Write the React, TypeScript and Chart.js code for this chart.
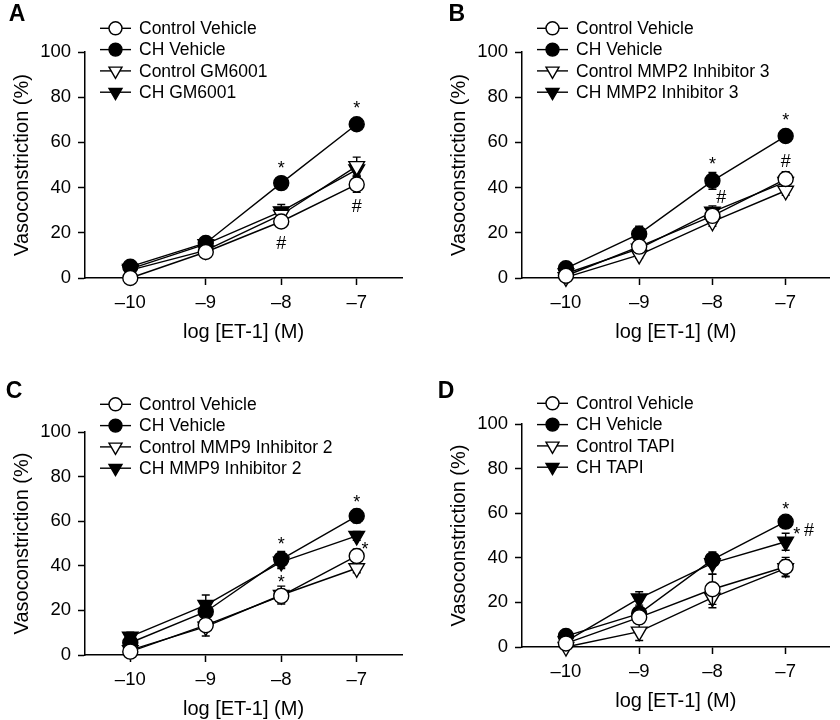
import React, { useEffect, useRef } from 'react';
import { Chart, registerables } from 'chart.js';

Chart.register(...registerables);

// ---------- shared axis data ----------
const doses = [-10, -9, -8, -7];
const xTickLabels = ['\u201310', '\u20139', '\u20138', '\u20137'];
const xMin = -10.6;
const xMax = -6.4;
const yMin = 0;
const yMax = 100;
const yStep = 20;
const xTitle = 'log [ET-1] (M)';
const yTitle = 'Vasoconstriction (%)';

// ---------- Panel A ----------
const aLetter = 'A';
const aLabels = ['Control Vehicle', 'CH Vehicle', 'Control GM6001', 'CH GM6001'];
const aCtrlVehicle = [0, 11.5, 25, 41.4];
const aCtrlVehicleErr = [1, 1.5, 2, 3.5];
const aChVehicle = [5, 15.5, 42, 68];
const aChVehicleErr = [1, 1.5, 1.5, 2.5];
const aCtrlDrug = [3.5, 12.2, 28, 49.5];
const aCtrlDrugErr = [1, 1.5, 2.5, 4];
const aChDrug = [4, 15, 29.5, 48];
const aChDrugErr = [1, 1.5, 3, 3];
const aMarkX = [-8, -7, -8, -7];
const aMarkY = [50.7, 77.3, 15.8, 32];
const aMarkText = ['*', '*', '#', '#'];

// ---------- Panel B ----------
const bLetter = 'B';
const bLabels = ['Control Vehicle', 'CH Vehicle', 'Control MMP2 Inhibitor 3', 'CH MMP2 Inhibitor 3'];
const bCtrlVehicle = [1, 13.9, 27.5, 43.8];
const bCtrlVehicleErr = [1, 2, 2.5, 3.2];
const bChVehicle = [4.3, 19.5, 43, 62.8];
const bChVehicleErr = [1, 3.4, 3.7, 2.5];
const bCtrlDrug = [0.3, 10.2, 24.9, 38.6];
const bCtrlDrugErr = [1, 1.5, 2, 2];
const bChDrug = [2, 13, 29.3, 42.5];
const bChDrugErr = [1, 1.5, 2.6, 2];
const bMarkX = [-8, -7, -7.88, -7];
const bMarkY = [52.2, 71.7, 36, 51.8];
const bMarkText = ['*', '*', '#', '#'];

// ---------- Panel C ----------
const cLetter = 'C';
const cLabels = ['Control Vehicle', 'CH Vehicle', 'Control MMP9 Inhibitor 2', 'CH MMP9 Inhibitor 2'];
const cCtrlVehicle = [1.5, 13.4, 26.5, 44.4];
const cCtrlVehicleErr = [1, 2, 3, 3];
const cChVehicle = [5.5, 19.4, 42.9, 62.3];
const cChVehicleErr = [1, 3, 3.5, 3];
const cCtrlDrug = [2.2, 12.7, 26.9, 38.9];
const cCtrlDrugErr = [1, 4.2, 4, 2];
const cChDrug = [8.2, 22.4, 41.8, 53.4];
const cChDrugErr = [2, 4.5, 3, 2];
const cMarkX = [-8, -8, -7, -6.89];
const cMarkY = [51.6, 34.8, 70.7, 49.3];
const cMarkText = ['*', '*', '*', '*'];

// ---------- Panel D ----------
const dLetter = 'D';
const dLabels = ['Control Vehicle', 'CH Vehicle', 'Control TAPI', 'CH TAPI'];
const dCtrlVehicle = [1.6, 13.3, 25.9, 36];
const dCtrlVehicleErr = [1, 2, 6.8, 4.2];
const dChVehicle = [4.9, 15, 39.2, 56.2];
const dChVehicleErr = [1, 2, 2, 2];
const dCtrlDrug = [0, 6.9, 22.1, 35.3];
const dCtrlDrugErr = [1, 4, 4.5, 3.8];
const dChDrug = [2.5, 21.8, 37.6, 47.2];
const dChDrugErr = [1, 3, 5, 3.8];
const dMarkX = [-7, -6.85, -6.68];
const dMarkY = [63.7, 52.5, 52.5];
const dMarkText = ['*', '*', '#'];

// ---------- layout (positions only) ----------
const FONT = '"Liberation Sans", Arial, Helvetica, sans-serif';
const CW = 420;
const CH = 360;

type Series = { label: string; values: number[]; errors: number[] };
type PanelSpec = {
  letter: string;
  series: Series[];
  markX: number[];
  markY: number[];
  markText: string[];
  left: number;
  top: number;
  plotLeft: number;
  plotRight: number;
  plotTop: number;
  plotBottom: number;
  letterX: number;
  letterY: number;
  legendTop: number;
};

function mk(labels: string[], vals: number[][], errs: number[][]): Series[] {
  return labels.map((l, i) => ({ label: l, values: vals[i], errors: errs[i] }));
}

const panels: PanelSpec[] = [
  {
    letter: aLetter,
    series: mk(aLabels, [aCtrlVehicle, aChVehicle, aCtrlDrug, aChDrug], [aCtrlVehicleErr, aChVehicleErr, aCtrlDrugErr, aChDrugErr]),
    markX: aMarkX, markY: aMarkY, markText: aMarkText,
    left: 0, top: 0, plotLeft: 85, plotRight: 402, plotTop: 52, plotBottom: 278,
    letterX: 17, letterY: 15, legendTop: 28.3,
  },
  {
    letter: bLetter,
    series: mk(bLabels, [bCtrlVehicle, bChVehicle, bCtrlDrug, bChDrug], [bCtrlVehicleErr, bChVehicleErr, bCtrlDrugErr, bChDrugErr]),
    markX: bMarkX, markY: bMarkY, markText: bMarkText,
    left: 420, top: 0, plotLeft: 102, plotRight: 418, plotTop: 52, plotBottom: 278,
    letterX: 36.7, letterY: 15, legendTop: 28.3,
  },
  {
    letter: cLetter,
    series: mk(cLabels, [cCtrlVehicle, cChVehicle, cCtrlDrug, cChDrug], [cCtrlVehicleErr, cChVehicleErr, cCtrlDrugErr, cChDrugErr]),
    markX: cMarkX, markY: cMarkY, markText: cMarkText,
    left: 0, top: 360, plotLeft: 85, plotRight: 402, plotTop: 72, plotBottom: 295,
    letterX: 14, letterY: 32, legendTop: 44.3,
  },
  {
    letter: dLetter,
    series: mk(dLabels, [dCtrlVehicle, dChVehicle, dCtrlDrug, dChDrug], [dCtrlVehicleErr, dChVehicleErr, dCtrlDrugErr, dChDrugErr]),
    markX: dMarkX, markY: dMarkY, markText: dMarkText,
    left: 420, top: 360, plotLeft: 102, plotRight: 418, plotTop: 64, plotBottom: 287,
    letterX: 26, letterY: 32, legendTop: 43.3,
  },
];

const markerStyles = [
  { shape: 'circle', fill: '#ffffff' },
  { shape: 'circle', fill: '#000000' },
  { shape: 'triangle', fill: '#ffffff' },
  { shape: 'triangle', fill: '#000000' },
];

function drawMarker(ctx: CanvasRenderingContext2D, shape: string, fill: string, x: number, y: number, r: number) {
  ctx.beginPath();
  if (shape === 'circle') {
    ctx.arc(x, y, r, 0, Math.PI * 2);
  } else {
    ctx.moveTo(x, y + r);
    ctx.lineTo(x - r * Math.sin(Math.PI / 3), y - r * 0.5);
    ctx.lineTo(x + r * Math.sin(Math.PI / 3), y - r * 0.5);
    ctx.closePath();
  }
  ctx.fillStyle = fill;
  ctx.fill();
  ctx.lineWidth = 1.4;
  ctx.strokeStyle = '#000';
  ctx.stroke();
}

const decoPlugin = {
  id: 'panelDeco',
  beforeDatasetDraw(chart: any, args: any) {
    const spec: PanelSpec = chart.options.plugins.panelDeco.spec;
    const idx = args.index;
    const s = spec.series[idx];
    if (!s) return;
    const meta = chart.getDatasetMeta(idx);
    const yScale = chart.scales.y;
    const ctx = chart.ctx;
    ctx.save();
    ctx.strokeStyle = '#000';
    ctx.lineWidth = 1.4;
    meta.data.forEach((pt: any, j: number) => {
      const e = s.errors[j];
      if (!e) return;
      const v = s.values[j];
      const yTop = yScale.getPixelForValue(v + e);
      const yBot = yScale.getPixelForValue(v - e);
      const x = pt.x;
      ctx.beginPath();
      ctx.moveTo(x, yTop);
      ctx.lineTo(x, yBot);
      ctx.moveTo(x - 4, yTop);
      ctx.lineTo(x + 4, yTop);
      ctx.moveTo(x - 4, yBot);
      ctx.lineTo(x + 4, yBot);
      ctx.stroke();
    });
    ctx.restore();
  },
  afterDraw(chart: any) {
    const spec: PanelSpec = chart.options.plugins.panelDeco.spec;
    const ctx: CanvasRenderingContext2D = chart.ctx;
    const L = chart.chartArea.left;
    ctx.save();
    ctx.fillStyle = '#000';
    ctx.font = `bold 23px ${FONT}`;
    ctx.textAlign = 'center';
    ctx.textBaseline = 'middle';
    ctx.fillText(spec.letter, spec.letterX, spec.letterY);

    spec.series.forEach((s, i) => {
      const y = spec.legendTop + i * 21.3;
      ctx.strokeStyle = '#000';
      ctx.lineWidth = 1.4;
      ctx.beginPath();
      ctx.moveTo(L + 15, y);
      ctx.lineTo(L + 46, y);
      ctx.stroke();
      const st = markerStyles[i];
      drawMarker(ctx, st.shape, st.fill, L + 30.5, y, st.shape === 'circle' ? 6.5 : 7.5);
      ctx.fillStyle = '#000';
      ctx.font = `17.5px ${FONT}`;
      ctx.textAlign = 'left';
      ctx.textBaseline = 'middle';
      ctx.fillText(s.label, L + 54, y + 1);
    });

    const xs = chart.scales.x;
    const ys = chart.scales.y;
    ctx.textAlign = 'center';
    ctx.textBaseline = 'alphabetic';
    spec.markText.forEach((t, k) => {
      const px = xs.getPixelForValue(spec.markX[k]);
      const py = ys.getPixelForValue(spec.markY[k]);
      const fs = 18;
      ctx.font = `${fs}px ${FONT}`;
      const off = t === '*' ? 0.57 * fs : 0.36 * fs;
      ctx.fillText(t, px, py + off);
    });
    ctx.restore();
  },
};

function buildConfig(p: PanelSpec): any {
  const tickFont = { family: FONT, size: 18.5 };
  const titleFont = { family: FONT, size: 20 };
  const grid = { drawOnChartArea: false, drawTicks: true, tickLength: 7, tickWidth: 1.5, tickColor: '#000' };
  const border = { display: true, color: '#000', width: 1.5 };
  return {
    type: 'line',
    data: {
      datasets: p.series.map((s, i) => {
        const st = markerStyles[i];
        return {
          label: s.label,
          data: doses.map((d, j) => ({ x: d, y: s.values[j] })),
          borderColor: '#000',
          borderWidth: 1.4,
          backgroundColor: st.fill,
          pointStyle: st.shape,
          pointRotation: st.shape === 'triangle' ? 180 : 0,
          pointRadius: st.shape === 'triangle' ? 9 : 7.5,
          pointHoverRadius: st.shape === 'triangle' ? 9 : 7.5,
          pointBackgroundColor: st.fill,
          pointBorderColor: '#000',
          pointBorderWidth: 1.4,
          tension: 0,
          fill: false,
          clip: false,
        };
      }),
    },
    options: {
      responsive: false,
      animation: false,
      devicePixelRatio: 1,
      events: [],
      layout: { padding: { left: p.plotLeft - 85, top: p.plotTop, right: CW - p.plotRight, bottom: 0 } },
      plugins: {
        legend: { display: false },
        tooltip: { enabled: false },
        title: { display: false },
        panelDeco: { spec: p },
      },
      scales: {
        x: {
          type: 'linear',
          min: xMin,
          max: xMax,
          afterBuildTicks: (s: any) => {
            s.ticks = doses.map((v) => ({ value: v }));
          },
          afterFit: (s: any) => {
            s.height = CH - p.plotBottom;
          },
          ticks: {
            callback: (v: any) => {
              const k = doses.indexOf(Number(v));
              return k >= 0 ? xTickLabels[k] : '';
            },
            font: tickFont,
            color: '#000',
            padding: 7,
            maxRotation: 0,
            autoSkip: false,
          },
          grid,
          border,
          title: {
            display: true,
            text: xTitle,
            font: titleFont,
            color: '#000',
            padding: { top: 0, bottom: CH - (p.plotBottom + 54) - 12 },
          },
        },
        y: {
          min: yMin,
          max: yMax,
          afterFit: (s: any) => {
            s.width = 85;
          },
          ticks: { stepSize: yStep, font: tickFont, color: '#000', padding: 7 },
          grid,
          border,
          title: {
            display: true,
            text: yTitle,
            font: titleFont,
            color: '#000',
            padding: { top: 10, bottom: 0 },
          },
        },
      },
    },
    plugins: [decoPlugin],
  };
}

function Panel({ spec }: { spec: PanelSpec }) {
  const ref = useRef<HTMLCanvasElement | null>(null);
  useEffect(() => {
    if (!ref.current) return;
    const chart = new Chart(ref.current, buildConfig(spec));
    return () => chart.destroy();
  }, [spec]);
  return (
    <canvas
      ref={ref}
      width={CW}
      height={CH}
      style={{ position: 'absolute', left: spec.left, top: spec.top, width: CW, height: CH }}
    />
  );
}

export default function App() {
  return (
    <div style={{ position: 'absolute', left: 0, top: 0, width: 840, height: 720, background: '#fff' }}>
      {panels.map((p, i) => (
        <Panel key={i} spec={p} />
      ))}
    </div>
  );
}
